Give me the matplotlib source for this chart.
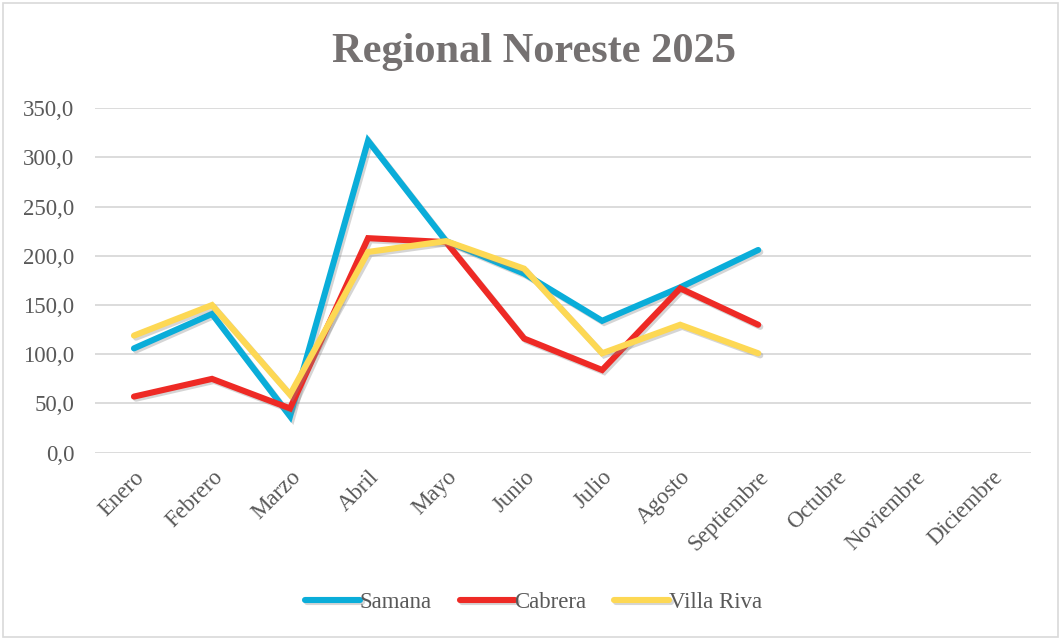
import matplotlib.pyplot as plt
import matplotlib.patheffects as pe
from matplotlib.patches import Rectangle
from matplotlib.ticker import FuncFormatter

months = ['Enero', 'Febrero', 'Marzo', 'Abril', 'Mayo', 'Junio', 'Julio',
          'Agosto', 'Septiembre', 'Octubre', 'Noviembre', 'Diciembre']
samana = [106, 141, 37, 317, 215, 182, 134, 168, 206]
cabrera = [57, 75, 45, 218, 214, 116, 84, 167, 130]
villa_riva = [119, 150, 59, 204, 215, 187, 101, 130, 101]

series = [('Samana', samana, '#0AADD9'),
          ('Cabrera', cabrera, '#EE2A25'),
          ('Villa Riva', villa_riva, '#FDD854')]

plt.rcParams['font.family'] = ['Liberation Serif', 'DejaVu Serif']

fig = plt.figure(figsize=(10.61, 6.4), dpi=100)
fig.patches.append(Rectangle((0.003, 0.004), 0.994, 0.992, transform=fig.transFigure,
                             fill=False, edgecolor='#D9D9D9', linewidth=1.2))
ax = fig.add_axes([0.0895, 0.2927, 0.8825, 0.5381])

x = list(range(len(months)))
shadow = [pe.SimpleLineShadow(offset=(1.5, -1.5), shadow_color='#888888', alpha=0.35),
          pe.Normal()]
for name, vals, color in series:
    ax.plot(x[:len(vals)], vals, color=color, linewidth=4.4, label=name,
            solid_capstyle='round', solid_joinstyle='miter', path_effects=shadow)

ax.set_xlim(-0.5, len(months) - 0.5)
ax.set_ylim(0, 350)
ax.set_yticks(range(0, 351, 50))
ax.yaxis.set_major_formatter(FuncFormatter(lambda v, p: f'{v:.1f}'.replace('.', ',')))
ax.set_xticks(x)
ax.set_xticklabels(months, rotation=45, ha='right', rotation_mode='anchor')
ax.grid(axis='y', color='#D9D9D9', linewidth=1.3)
ax.set_axisbelow(True)
for s in ax.spines.values():
    s.set_visible(False)
ax.tick_params(axis='both', length=0, labelsize=16.5, labelcolor='#595959')
ax.tick_params(axis='x', pad=10)
ax.tick_params(axis='y', pad=15)

fig.text(0.503, 0.918, 'Regional Noreste 2025', ha='center', va='center',
         fontsize=30.5, fontweight='bold', color='#757171')

leg = fig.legend(loc='center', bbox_to_anchor=(0.503, 0.058), ncol=3, frameon=False,
                 fontsize=16.5, handlelength=2.4, handletextpad=0.0, columnspacing=1.2)
for t in leg.get_texts():
    t.set_color('#595959')

fig.savefig('out.png', dpi=100)
